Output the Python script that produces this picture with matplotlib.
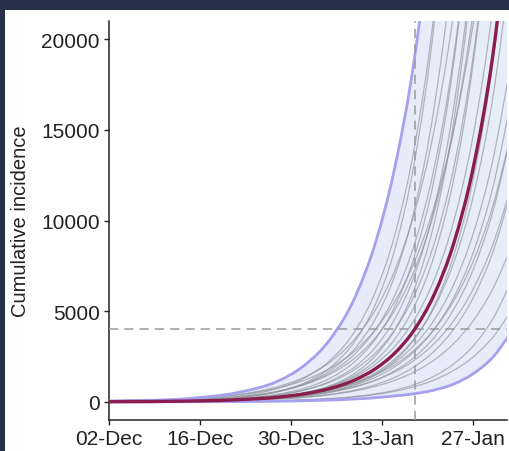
import numpy as np
import matplotlib
matplotlib.use('Agg')
import matplotlib.pyplot as plt
import matplotlib.dates as mdates
from matplotlib.patches import Rectangle, PathPatch
from matplotlib.path import Path

plt.rcParams['font.family'] = ['Liberation Sans', 'DejaVu Sans']

# days since 02-Dec where each series is sampled
start = np.datetime64('2019-12-02')
days = np.array([0, 12, 20, 26, 30, 34, 38, 41, 44, 47, 50, 53, 56, 59, 62])

median = [9, 42, 120, 261, 439, 738, 1242, 1834, 2708, 4000, 5908, 8725, 12888, 19034, 28115]
upper = [50, 180, 530, 1150, 2000, 3450, 5900, 8800, 13000, 19000, 28000, 41000, 60000, 88000, 130000]
lower = [0, 5, 15, 35, 60, 100, 160, 230, 330, 450, 650, 980, 1550, 2450, 3900]

# individual simulated trajectories
samples = [
    [20, 105, 322, 745, 1305, 2285, 4000, 6088, 9265, 14102, 21462, 32665, 49714, 75663, 115157],
    [12, 70, 231, 569, 1037, 1889, 3443, 5399, 8468, 13280, 20828, 32665, 51228, 80342, 126002],
    [37, 157, 409, 841, 1358, 2195, 3548, 5085, 7288, 10447, 14974, 21462, 30762, 44093, 63199],
    [15, 79, 243, 563, 986, 1727, 3023, 4601, 7003, 10658, 16221, 24687, 37573, 57185, 87034],
    [19, 92, 261, 569, 957, 1610, 2708, 4000, 5908, 8726, 12888, 19035, 28115, 41525, 61332],
    [11, 60, 184, 426, 745, 1305, 2285, 3477, 5293, 8055, 12259, 18658, 28397, 43220, 65778],
    [26, 109, 285, 586, 948, 1532, 2475, 3548, 5085, 7288, 10447, 14974, 21462, 30762, 44093],
    [10, 52, 160, 370, 648, 1135, 1986, 3023, 4601, 7003, 10658, 16221, 24687, 37573, 57185],
    [13, 62, 177, 385, 648, 1090, 1834, 2708, 4000, 5908, 8726, 12888, 19035, 28115, 41525],
    [5, 33, 109, 269, 490, 893, 1626, 2551, 4000, 6273, 9838, 15430, 24199, 37951, 59519],
    [7, 39, 121, 280, 490, 858, 1501, 2285, 3477, 5293, 8055, 12259, 18658, 28397, 43220],
    [10, 48, 136, 297, 500, 841, 1414, 2088, 3084, 4555, 6728, 9937, 14677, 21678, 32018],
    [44, 165, 397, 768, 1193, 1852, 2876, 4000, 5564, 7739, 10765, 14974, 20828, 28971, 40298],
    [5, 26, 79, 184, 322, 563, 986, 1501, 2285, 3477, 5293, 8055, 12259, 18658, 28397],
    [8, 37, 105, 229, 385, 648, 1090, 1610, 2378, 3512, 5188, 7662, 11317, 16715, 24687],
    [11, 47, 123, 253, 409, 661, 1069, 1532, 2195, 3147, 4510, 6464, 9265, 13280, 19035],
    [10, 42, 109, 225, 363, 586, 948, 1358, 1947, 2791, 4000, 5733, 8218, 11779, 16883],
    [16, 61, 148, 285, 443, 688, 1069, 1486, 2067, 2876, 4000, 5564, 7739, 10765, 14974],
    [9, 37, 97, 199, 322, 520, 841, 1205, 1727, 2475, 3548, 5085, 7288, 10447, 14974],
    [13, 49, 118, 229, 356, 552, 858, 1193, 1659, 2308, 3210, 4465, 6211, 8639, 12017],
    [7, 29, 76, 157, 253, 409, 661, 948, 1358, 1947, 2791, 4000, 5733, 8218, 11779],
    [9, 35, 85, 165, 256, 397, 616, 858, 1193, 1659, 2308, 3210, 4465, 6211, 8639],
    [2, 10, 29, 62, 105, 177, 297, 439, 648, 957, 1414, 2088, 3084, 4555, 6728],
    [3, 13, 33, 68, 109, 177, 285, 409, 586, 841, 1205, 1727, 2475, 3548, 5085],
]

threshold = 4000
threshold_day = 47

tick_days = [0, 14, 28, 42, 56]
y_ticks = [0, 5000, 10000, 15000, 20000]

dates = start + days.astype('timedelta64[D]')
xnum = mdates.date2num(dates)


def curve_verts(x, y):
    # cubic bezier pieces through the sampled points
    y = np.asarray(y, float)
    m = np.gradient(y, x)
    verts = [(x[0], y[0])]
    for i in range(len(x) - 1):
        h = x[i + 1] - x[i]
        verts += [(x[i] + h / 3, y[i] + m[i] * h / 3),
                  (x[i + 1] - h / 3, y[i + 1] - m[i + 1] * h / 3),
                  (x[i + 1], y[i + 1])]
    return verts


def curve_path(x, y):
    verts = curve_verts(x, y)
    codes = [Path.MOVETO] + [Path.CURVE4] * (len(verts) - 1)
    return Path(verts, codes)


def band_path(x, lo, hi):
    top = curve_verts(x, hi)
    bot = curve_verts(x, lo)[::-1]
    verts = top + bot + [top[0]]
    codes = ([Path.MOVETO] + [Path.CURVE4] * (len(top) - 1) + [Path.LINETO]
             + [Path.CURVE4] * (len(bot) - 1) + [Path.CLOSEPOLY])
    return Path(verts, codes)


fig = plt.figure(figsize=(5.1, 4.52), dpi=100, facecolor='#263049')
# white panel behind the plot, leaving a dark strip on the top and left
fig.patches.append(Rectangle((5 / 510, 0), 1, 441 / 452, transform=fig.transFigure,
                             facecolor='white', edgecolor='none', zorder=-10))

ax = fig.add_axes([109 / 510, 31 / 452, 398 / 510, 399 / 452])
ax.set_zorder(1)
ax.set_facecolor('none')
ax.xaxis.update_units(dates)

ax.add_patch(PathPatch(band_path(xnum, lower, upper), facecolor='#e7ecfb',
                       edgecolor='none', zorder=1))
for s in samples:
    ax.add_patch(PathPatch(curve_path(xnum, s), fill=False, edgecolor='#8e949a',
                           lw=0.9, alpha=0.65, zorder=2))
for b in (upper, lower):
    ax.add_patch(PathPatch(curve_path(xnum, b), fill=False, edgecolor='#a7a0ef',
                           lw=2.0, zorder=3))

ax.axhline(threshold, color='#9a9a9a', lw=1.1, ls=(0, (6, 4)), zorder=4)
ax.axvline(start + np.timedelta64(threshold_day, 'D'), color='#9a9a9a', lw=1.1,
           ls=(0, (6, 4)), zorder=4)
ax.add_patch(PathPatch(curve_path(xnum, median), fill=False, edgecolor='#8b1d4e',
                       lw=2.4, zorder=5))

ax.set_xlim(start, start + np.timedelta64(1469, 'h'))
ax.set_ylim(-1000, 21000)
ax.set_xticks([start + np.timedelta64(d, 'D') for d in tick_days])
ax.xaxis.set_major_formatter(mdates.DateFormatter('%d-%b'))
ax.set_yticks(y_ticks)
ax.set_yticklabels([str(v) for v in y_ticks])

for side in ['top', 'right']:
    ax.spines[side].set_visible(False)
for side in ['left', 'bottom']:
    ax.spines[side].set_linewidth(1.1)
    ax.spines[side].set_color('#222222')
ax.tick_params(axis='both', labelsize=15, length=3.5, width=1.0, color='#222222',
               labelcolor='#222222', pad=3)
ax.set_ylabel('Cumulative incidence', fontsize=14.5, color='#222222', labelpad=8)

fig.savefig('out.png', dpi=100, facecolor=fig.get_facecolor())
